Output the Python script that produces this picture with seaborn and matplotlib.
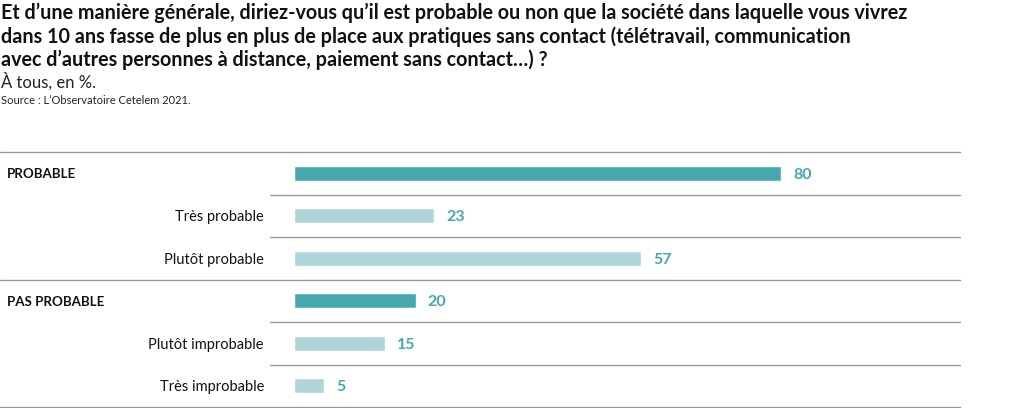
import pandas as pd
import matplotlib.pyplot as plt
import matplotlib.transforms as mtransforms
import seaborn as sns

# Données
labels = ["PROBABLE", "Très probable", "Plutôt probable",
          "PAS PROBABLE", "Plutôt improbable", "Très improbable"]
values = [80, 23, 57, 20, 15, 5]
kinds = ["total", "detail", "detail", "total", "detail", "detail"]

title = ("Et d’une manière générale, diriez-vous qu’il est probable ou non que la société dans laquelle vous vivrez\n"
         "dans 10 ans fasse de plus en plus de place aux pratiques sans contact (télétravail, communication\n"
         "avec d’autres personnes à distance, paiement sans contact…) ?")
subtitle = "À tous, en %."
source = "Source : L’Observatoire Cetelem 2021."

dark = "#47a7ae"
light = "#afd5d9"

df = pd.DataFrame({"label": labels, "value": values, "kind": kinds})
df["row"] = range(len(df))

sns.set_style("white")
plt.rcParams["font.family"] = ["Lato", "DejaVu Sans"]

W, H = 1020, 408
fig = plt.figure(figsize=(W / 100, H / 100), dpi=100)

# zone des barres : x 0..960 px, y 152..407 px
ax = fig.add_axes([0, 1 - 407 / H, 960 / W, (407 - 152) / H])
px_per_unit = 6.09
x0 = 294
ax.set_xlim(-x0 / px_per_unit, (960 - x0) / px_per_unit)

sns.barplot(data=df, y="row", x="value", hue="kind", orient="h",
            palette={"total": dark, "detail": light}, dodge=False,
            saturation=1, width=0.36, legend=False, ax=ax)
ax.set_ylim(len(df) - 0.5, -0.5)
ax.axis("off")

for c in ax.containers:
    for t in ax.bar_label(c, padding=8.5, color=dark, fontweight="bold", fontsize=11.5):
        t.set_va("center_baseline")

# lignes de séparation
for i in range(len(df) + 1):
    y = i - 0.5
    if i in (0, 3, 6):
        ax.axhline(y, xmin=0, xmax=1, color="#9a9a9a", lw=1, clip_on=False)
    else:
        ax.axhline(y, xmin=270 / 960, xmax=1, color="#9a9a9a", lw=1, clip_on=False)

trans = mtransforms.blended_transform_factory(fig.transFigure, ax.transData)
for _, r in df.iterrows():
    if r["kind"] == "total":
        ax.text(7 / W, r["row"], r["label"], transform=trans, ha="left", va="center_baseline",
                fontsize=9.6, fontweight="bold", color="#111111")
    else:
        ax.text(264 / W, r["row"], r["label"], transform=trans, ha="right", va="center_baseline",
                fontsize=10.5, color="#111111")

fig.text(1 / W, 1 - 3 / H, title, ha="left", va="top", fontsize=14.2,
         fontweight="bold", color="#111111", linespacing=1.18)
fig.text(1 / W, 1 - 72 / H, subtitle, ha="left", va="top", fontsize=12, color="#222222")
fig.text(1 / W, 1 - 95 / H, source, ha="left", va="top", fontsize=8, color="#222222")

fig.savefig("out.png", dpi=100, facecolor="white")
